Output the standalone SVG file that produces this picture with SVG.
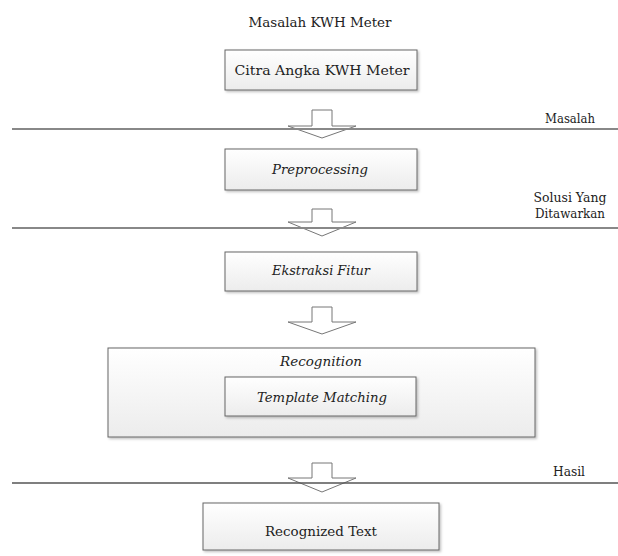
<svg xmlns="http://www.w3.org/2000/svg" width="618" height="556" viewBox="0 0 618 556">
<defs>
<linearGradient id="g" x1="0" y1="0" x2="0" y2="1">
<stop offset="0" stop-color="#ffffff"/>
<stop offset="1" stop-color="#ececec"/>
</linearGradient>
<filter id="sh" x="-10%" y="-10%" width="120%" height="130%">
<feDropShadow dx="1.5" dy="1.5" stdDeviation="1" flood-color="#000" flood-opacity="0.25"/>
</filter>
</defs>
<style>
text{font-family:"DejaVu Serif","Liberation Serif",serif;font-size:12.5px;fill:#222;text-anchor:middle}
.it{font-style:italic}
.box{fill:url(#g);stroke:#666;stroke-width:1;filter:url(#sh)}
.arrow{fill:#fff;stroke:#777;stroke-width:1}
.sep{stroke:#888;stroke-width:2}
</style>
<rect width="618" height="556" fill="#fff"/>
<text x="320" y="27" textLength="143" lengthAdjust="spacingAndGlyphs">Masalah KWH Meter</text>
<g id="connectors">
<polygon class="arrow" points="312,110 332,110 332,126 356,126 322,138 288,126 312,126"/>
<polygon class="arrow" points="312,209 332,209 332,222 356,222 322,236 288,222 312,222"/>
<polygon class="arrow" points="312,307 332,307 332,322 356,322 322,334 288,322 312,322"/>
<polygon class="arrow" points="312,463 332,463 332,478 356,478 322,492 288,478 312,478"/>
</g>
<g id="separators">
<line class="sep" x1="12" y1="129" x2="618" y2="129"/>
<line class="sep" x1="12" y1="228" x2="618" y2="228"/>
<line x1="12" y1="483" x2="618" y2="483" stroke="#555" stroke-width="1.3"/>
<text x="570" y="123" textLength="50" lengthAdjust="spacingAndGlyphs">Masalah</text>
<text x="570" y="202" textLength="73" lengthAdjust="spacingAndGlyphs">Solusi Yang</text>
<text x="570" y="218" textLength="70" lengthAdjust="spacingAndGlyphs">Ditawarkan</text>
<text x="569" y="476" textLength="32" lengthAdjust="spacingAndGlyphs">Hasil</text>
</g>
<g id="citra">
<rect class="box" x="225" y="50" width="192" height="40"/>
<text x="322" y="75" textLength="175" lengthAdjust="spacingAndGlyphs">Citra Angka KWH Meter</text>
</g>
<g id="preprocessing">
<rect class="box" x="225" y="149" width="192" height="41"/>
<text class="it" x="320" y="174" textLength="96" lengthAdjust="spacingAndGlyphs">Preprocessing</text>
</g>
<g id="ekstraksi">
<rect class="box" x="225" y="252" width="192" height="39"/>
<text class="it" x="321" y="275" textLength="98" lengthAdjust="spacingAndGlyphs">Ekstraksi Fitur</text>
</g>
<g id="recognition">
<rect class="box" x="108" y="348" width="427" height="89"/>
<text class="it" x="321" y="366" textLength="82" lengthAdjust="spacingAndGlyphs">Recognition</text>
</g>
<g id="template">
<rect class="box" x="225" y="377" width="191" height="39"/>
<text class="it" x="322" y="402" textLength="130" lengthAdjust="spacingAndGlyphs">Template Matching</text>
</g>
<g id="recognized">
<rect class="box" x="203" y="503" width="236" height="47"/>
<text x="321" y="536" textLength="112" lengthAdjust="spacingAndGlyphs">Recognized Text</text>
</g>
</svg>
